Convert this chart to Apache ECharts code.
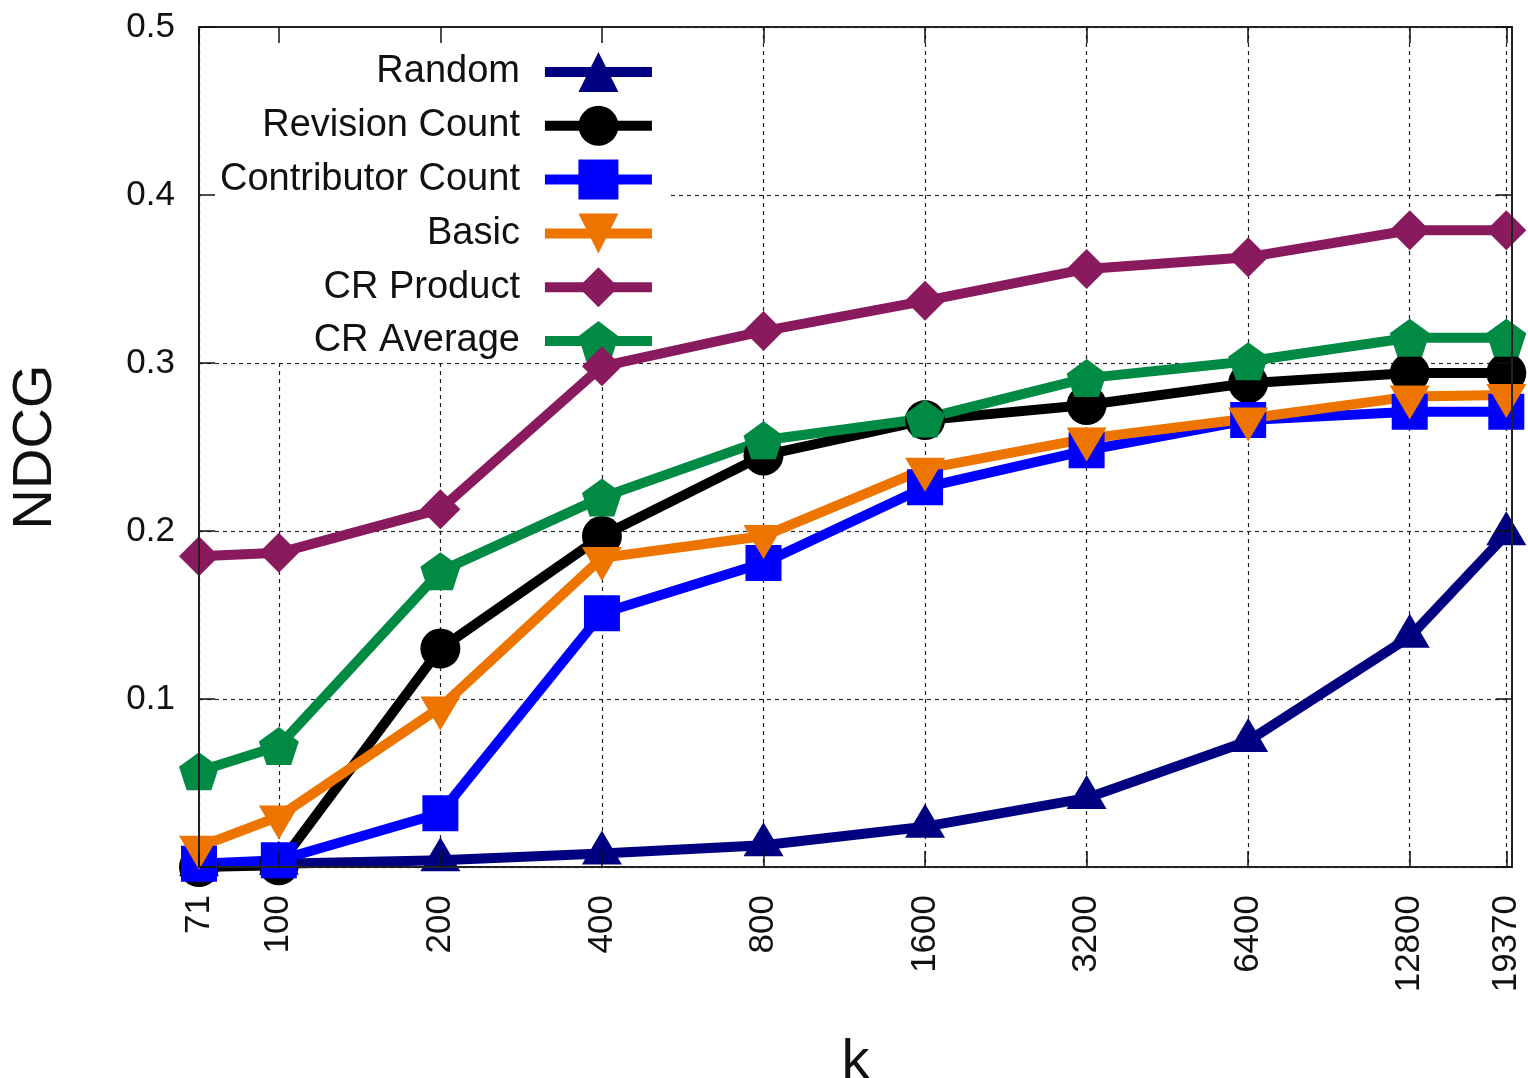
<!DOCTYPE html>
<html>
<head>
<meta charset="utf-8">
<script src="https://cdn.jsdelivr.net/npm/echarts@6/dist/echarts.min.js"></script>
<style>
  html, body { margin: 0; padding: 0; background: #fff; }
  #chart { width: 1528px; height: 1078px; }
</style>
</head>
<body>
<div id="chart"></div>
<script>
// k values (log-spaced x axis) and NDCG tick values
const kValues = [71, 100, 200, 400, 800, 1600, 3200, 6400, 12800, 19370];
const yTicks = [0.1, 0.2, 0.3, 0.4, 0.5];

const seriesNames = ['Random', 'Revision Count', 'Contributor Count', 'Basic', 'CR Product', 'CR Average'];

// NDCG at each k
const random           = [0.001, 0.002, 0.004, 0.008, 0.013, 0.024, 0.041, 0.075, 0.137, 0.198];
const revisionCount    = [0.000, 0.001, 0.130, 0.197, 0.245, 0.266, 0.275, 0.288, 0.294, 0.294];
const contributorCount = [0.002, 0.004, 0.032, 0.151, 0.181, 0.226, 0.248, 0.266, 0.271, 0.271];
const basic            = [0.012, 0.030, 0.095, 0.184, 0.197, 0.237, 0.255, 0.267, 0.280, 0.281];
const crProduct        = [0.185, 0.187, 0.213, 0.298, 0.319, 0.337, 0.356, 0.363, 0.379, 0.379];
const crAverage        = [0.057, 0.072, 0.176, 0.220, 0.254, 0.267, 0.291, 0.301, 0.315, 0.315];

const FONT = '"Liberation Sans", Arial, Helvetica, sans-serif';
const pentagon = 'path://M0,-10 L9.511,-3.09 L5.878,8.09 L-5.878,8.09 L-9.511,-3.09 Z';

const styles = [
  { color: '#000080', symbol: 'triangle', size: [40, 34], rotate: 0, offset: [0, -6] },
  { color: '#000000', symbol: 'circle', size: 40, rotate: 0, offset: [0, 0] },
  { color: '#0000ff', symbol: 'rect', size: 36, rotate: 0, offset: [0, 0] },
  { color: '#ee7400', symbol: 'triangle', size: [40, 34], rotate: 180, offset: [0, 6] },
  { color: '#8a1a5e', symbol: 'diamond', size: [40, 40], rotate: 0, offset: [0, 0] },
  { color: '#008a44', symbol: pentagon, size: [40, 38], rotate: 0, offset: [0, 0] }
];
const values = [random, revisionCount, contributorCount, basic, crProduct, crAverage];

const series = seriesNames.map((name, i) => ({
  name,
  type: 'line',
  xAxisIndex: 0,
  yAxisIndex: 0,
  data: kValues.map((k, j) => [k, values[i][j]]),
  symbol: styles[i].symbol,
  symbolSize: styles[i].size,
  symbolRotate: styles[i].rotate,
  symbolOffset: styles[i].offset,
  showAllSymbol: true,
  clip: false,
  color: styles[i].color,
  lineStyle: { color: styles[i].color, width: 10 },
  itemStyle: { color: styles[i].color },
  emphasis: { disabled: true },
  animation: false
}));

const frameLine = { show: true, onZero: false, lineStyle: { color: '#222', width: 2 } };
const tickStyle = { color: '#111', width: 1.5 };
const gridDash = { color: '#222', width: 1.2, type: [4, 4] };

const xBase = { type: 'log', logBase: 2, min: 71, max: 19850, gridIndex: 0 };
const yBase = { type: 'value', min: 0, max: 0.5, interval: 0.1, gridIndex: 0 };

const option = {
  animation: false,
  backgroundColor: '#fff',
  grid: { left: 199, right: 16, top: 27, bottom: 211, containLabel: false, outerBoundsMode: 'none' },
  xAxis: [
    Object.assign({}, xBase, {
      position: 'bottom', z: 5,
      axisLine: frameLine,
      axisTick: { show: true, inside: true, length: 16, customValues: kValues, lineStyle: tickStyle },
      axisLabel: {
        customValues: kValues, rotate: 90, margin: 28,
        fontSize: 35, fontFamily: FONT, color: '#111',
        formatter: v => String(Math.round(v))
      },
      splitLine: { show: false },
      minorTick: { show: false },
      name: 'k', nameLocation: 'middle', nameGap: 168,
      nameTextStyle: { fontSize: 56, fontFamily: FONT, color: '#111' }
    }),
    Object.assign({}, xBase, {
      position: 'top', z: 5,
      axisLine: frameLine,
      axisTick: { show: true, inside: true, length: 16, customValues: kValues, lineStyle: tickStyle },
      axisLabel: { show: false },
      splitLine: { show: false }
    }),
    Object.assign({}, xBase, {
      position: 'bottom', z: 0,
      axisLine: { show: false },
      axisTick: { show: false, customValues: kValues },
      axisLabel: { show: false },
      splitLine: { show: true, lineStyle: gridDash }
    })
  ],
  yAxis: [
    Object.assign({}, yBase, {
      position: 'left', z: 5,
      axisLine: frameLine,
      axisTick: { show: true, inside: true, length: 16, lineStyle: tickStyle },
      axisLabel: {
        customValues: yTicks, margin: 24,
        fontSize: 35, fontFamily: FONT, color: '#111',
        formatter: v => v.toFixed(1)
      },
      splitLine: { show: false },
      name: 'NDCG', nameLocation: 'middle', nameRotate: 90, nameGap: 135,
      nameTextStyle: { fontSize: 56, fontFamily: FONT, color: '#111' }
    }),
    Object.assign({}, yBase, {
      position: 'right', z: 5,
      axisLine: frameLine,
      axisTick: { show: true, inside: true, length: 16, lineStyle: tickStyle },
      axisLabel: { show: false },
      splitLine: { show: false }
    }),
    Object.assign({}, yBase, {
      position: 'left', z: 0,
      axisLine: { show: false },
      axisTick: { show: false },
      axisLabel: { show: false },
      splitLine: { show: true, lineStyle: gridDash }
    })
  ],
  legend: {
    z: 1,
    orient: 'vertical',
    left: 201, top: 28,
    align: 'right',
    backgroundColor: '#fff',
    padding: [24, 12, 2, 19],
    itemWidth: 107, itemHeight: 50, itemGap: 13.8,
    lineStyle: { width: 10 },
    textStyle: {
      fontSize: 38, fontFamily: FONT, color: '#111',
      width: 300, align: 'right', padding: [0, 20, 0, 0]
    },
    data: seriesNames,
    selectedMode: false
  },
  series
};

const chart = echarts.init(document.getElementById('chart'), null, { renderer: 'canvas' });
chart.setOption(option);
</script>
</body>
</html>
